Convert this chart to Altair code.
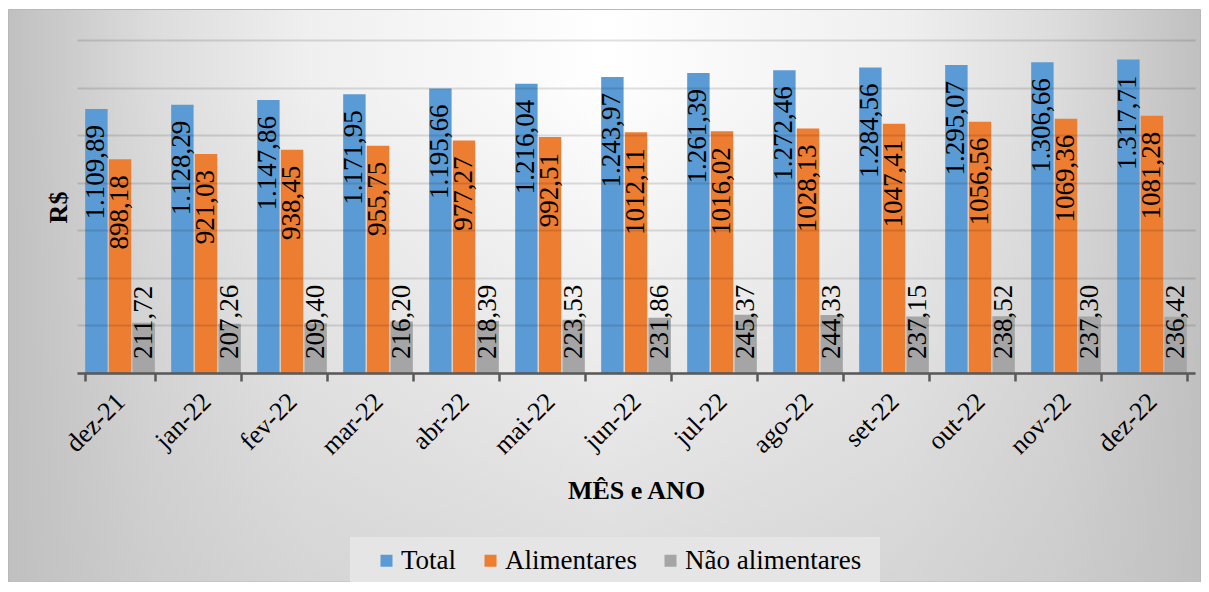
import altair as alt
import pandas as pd

months = ["dez-21", "jan-22", "fev-22", "mar-22", "abr-22", "mai-22", "jun-22",
          "jul-22", "ago-22", "set-22", "out-22", "nov-22", "dez-22"]
total = [1109.89, 1128.29, 1147.86, 1171.95, 1195.66, 1216.04, 1243.97,
         1261.39, 1272.46, 1284.56, 1295.07, 1306.66, 1317.71]
alimentares = [898.18, 921.03, 938.45, 955.75, 977.27, 992.51, 1012.11,
               1016.02, 1028.13, 1047.41, 1056.56, 1069.36, 1081.28]
nao_alimentares = [211.72, 207.26, 209.40, 216.20, 218.39, 223.53, 231.86,
                   245.37, 244.33, 237.15, 238.52, 237.30, 236.42]
series_names = ["Total", "Alimentares", "Não alimentares"]
series_colors = ["#5b9bd5", "#ed7d31", "#a5a5a5"]
y_ticks = [0, 200, 400, 600, 800, 1000, 1200, 1400]


def fmt(v, group):
    s = f"{v:,.2f}" if group else f"{v:.2f}"
    return s.replace(",", "X").replace(".", ",").replace("X", ".")


rows = []
for i, m in enumerate(months):
    rows.append(dict(mes=m, serie="Total", valor=total[i], rotulo=fmt(total[i], True)))
    rows.append(dict(mes=m, serie="Alimentares", valor=alimentares[i], rotulo=fmt(alimentares[i], False)))
    rows.append(dict(mes=m, serie="Não alimentares", valor=nao_alimentares[i], rotulo=fmt(nao_alimentares[i], False)))
df = pd.DataFrame(rows)
one = pd.DataFrame({"k": [0]})

W, H = 1118, 333
PL, PT, PR, PB = 69, 32, 6, 209
FONT = "Liberation Serif, Times New Roman, Tinos, DejaVu Serif, serif"

x_enc = alt.X(
    "mes:N", sort=months, title="MÊS e ANO",
    scale=alt.Scale(paddingInner=0.19, paddingOuter=0.095),
    axis=alt.Axis(labelAngle=-45, labelAlign="right", labelBaseline="top",
                  labelPadding=7, labelOffset=-9,
                  labelFontSize=26, labelFont=FONT, labelColor="black",
                  labelOverlap=False, zindex=1,
                  domainColor="#595959", domainWidth=2.5, tickColor="#595959",
                  tickWidth=2.5, tickSize=8, tickBand="extent", grid=False,
                  titleFont=FONT, titleFontSize=26, titleFontWeight="bold",
                  titleColor="black", titleY=117, titleBaseline="middle"),
)
xoff = alt.XOffset("serie:N", sort=series_names,
                   scale=alt.Scale(paddingInner=0.05, paddingOuter=0))
y_enc = alt.Y(
    "valor:Q", title="R$",
    scale=alt.Scale(domain=[0, 1400], nice=False),
    axis=alt.Axis(values=y_ticks, labels=False, ticks=False, domain=False, grid=True,
                  zindex=1,
                  gridColor="#000000", gridOpacity=0.12, gridWidth=2,
                  titleFont=FONT, titleFontSize=26, titleFontWeight="bold",
                  titleColor="black", titleX=-19, titleY=167, titleAngle=270,
                  titleAlign="center", titleBaseline="middle"),
)

h_grad = {"gradient": "linear", "x1": 0, "y1": 0, "x2": 1, "y2": 0,
          "stops": [{"offset": 0, "color": "#c0c0c0"},
                    {"offset": 0.12, "color": "#dcdcdc"},
                    {"offset": 0.25, "color": "#efefef"},
                    {"offset": 0.5, "color": "#ffffff"},
                    {"offset": 0.75, "color": "#efefef"},
                    {"offset": 0.88, "color": "#dcdcdc"},
                    {"offset": 1, "color": "#c0c0c0"}]}
v_grad = {"gradient": "linear", "x1": 0, "y1": 0, "x2": 0, "y2": 1,
          "stops": [{"offset": 0, "color": "rgba(192,192,192,0)"},
                    {"offset": 0.12, "color": "rgba(192,192,192,0)"},
                    {"offset": 1, "color": "rgba(192,192,192,0.55)"}]}

bg1 = alt.Chart(one).mark_rect(color=h_grad, stroke="#b8b8b8", strokeWidth=1).encode(
    x=alt.value(-PL + 0.5), x2=alt.value(W + PR - 0.5),
    y=alt.value(-PT + 1.5), y2=alt.value(H + PB))
bg2 = alt.Chart(one).mark_rect(color=v_grad).encode(
    x=alt.value(-PL + 1), x2=alt.value(W + PR - 1),
    y=alt.value(-PT + 2), y2=alt.value(H + PB))
legend_box = alt.Chart(one).mark_rect(color="#e5e5e5").encode(
    x=alt.value(273), x2=alt.value(803), y=alt.value(497), y2=alt.value(543))

bars = alt.Chart(df).mark_bar().encode(
    x=x_enc, xOffset=xoff, y=y_enc,
    color=alt.Color("serie:N", title=None,
                    scale=alt.Scale(domain=series_names, range=series_colors),
                    legend=alt.Legend(orient="none", legendX=296, legendY=507,
                                      direction="horizontal", symbolType="square",
                                      symbolSize=144, symbolStrokeWidth=0,
                                      symbolOpacity=1, labelLimit=400,
                                      labelFont=FONT, labelFontSize=27,
                                      labelColor="black", labelOffset=1,
                                      columnPadding=20, padding=0)),
)

top_labels = alt.Chart(df).transform_filter(
    alt.datum.serie != "Não alimentares"
).mark_text(angle=270, align="right", baseline="middle", dx=-16,
            font=FONT, fontSize=27, color="black").encode(
    x=x_enc, xOffset=xoff, y=y_enc, text="rotulo:N")

base_labels = alt.Chart(df).transform_filter(
    alt.datum.serie == "Não alimentares"
).mark_text(angle=270, align="left", baseline="middle", dx=14,
            font=FONT, fontSize=27, color="black").encode(
    x=x_enc, xOffset=xoff, y=alt.datum(0), text="rotulo:N")

chart = alt.layer(bg1, bg2, legend_box, bars, top_labels, base_labels).properties(
    width=W, height=H,
    autosize=alt.AutoSizeParams(type="none"),
    padding={"left": PL, "top": PT, "right": PR, "bottom": PB},
    background="white",
).configure_view(strokeWidth=0).configure(font=FONT)

chart.save("out.html", embed_options={"renderer": "svg", "actions": False})
